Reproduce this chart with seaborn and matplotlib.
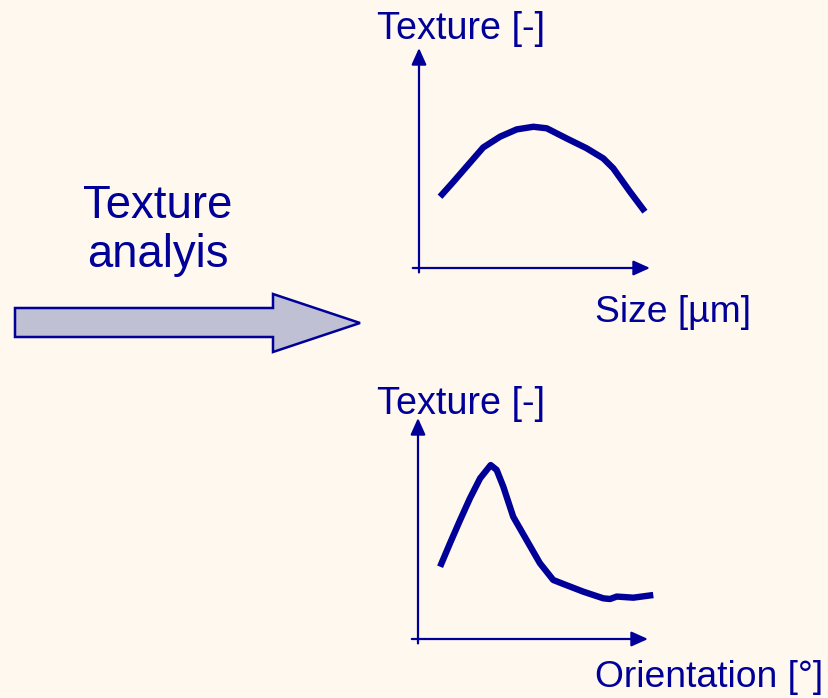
import numpy as np
import pandas as pd
import matplotlib.pyplot as plt
import seaborn as sns
from matplotlib.patches import Polygon

# curve values (arbitrary units, axes run 0..10)
size_x = [0.91, 1.49, 2.06, 2.78, 3.51, 4.23, 4.95, 5.53, 6.39, 7.26, 7.98, 8.41, 9.13, 9.78]
size_tex = [3.24, 3.92, 4.61, 5.48, 5.97, 6.30, 6.42, 6.35, 5.89, 5.44, 4.98, 4.53, 3.47, 2.56]

orient_x = [0.96, 1.39, 1.83, 2.26, 2.70, 3.16, 3.42, 3.71, 4.14, 4.72, 5.30, 5.88,
            6.32, 7.19, 8.06, 8.35, 8.64, 9.36, 10.23]
orient_tex = [3.27, 4.33, 5.38, 6.37, 7.27, 7.87, 7.65, 6.89, 5.53, 4.48, 3.43, 2.67,
              2.49, 2.14, 1.84, 1.81, 1.92, 1.87, 1.99]

top_labels = ("Texture [-]", "Size [µm]")
bottom_labels = ("Texture [-]", "Orientation [°]")
arrow_text = ["Texture", "analyis"]

navy = "#000099"
bg = "#FFF8EF"

sns.set_theme(style="white", rc={"figure.facecolor": bg, "axes.facecolor": bg})
plt.rcParams["font.family"] = ["Liberation Sans", "DejaVu Sans"]

W, H = 829, 698
fig = plt.figure(figsize=(W / 100, H / 100), dpi=100)


def panel(x0, y0, x1, y1, xs, ys, labels, lab_y, xlab_y):
    # axes box placed so data (0,0)-(10,10) lands on the drawn axis origin / tips
    ax = fig.add_axes([x0 / W, 1 - y0 / H, (x1 - x0) / W, (y0 - y1) / H])
    ax.set_xlim(0, 10)
    ax.set_ylim(0, 10)
    ax.axis("off")
    ax.patch.set_alpha(0)
    df = pd.DataFrame({"x": xs, "y": ys})
    sns.lineplot(data=df, x="x", y="y", ax=ax, color=navy, lw=4.6,
                 solid_capstyle="butt", solid_joinstyle="round", clip_on=False)
    ap = dict(arrowstyle="-|>,head_length=1.0,head_width=0.45", color=navy,
              lw=1.6, mutation_scale=10, shrinkA=0, shrinkB=0)
    ax.annotate("", xy=(10, 0), xytext=(-0.27, 0), arrowprops=ap, annotation_clip=False)
    ax.annotate("", xy=(0, 10), xytext=(0, -0.2), arrowprops=ap, annotation_clip=False)
    fig.text(377 / W, 1 - lab_y / H, labels[0], color=navy, fontsize=27.2,
             ha="left", va="baseline")
    fig.text(595 / W, 1 - xlab_y / H, labels[1], color=navy, fontsize=26.8,
             ha="left", va="baseline")
    return ax


panel(419, 268, 650, 48, size_x, size_tex, top_labels, 39, 322)
panel(418, 639, 648, 418, orient_x, orient_tex, bottom_labels, 414, 687)

# big block arrow
bax = fig.add_axes([0, 0, 1, 1])
bax.set_xlim(0, W)
bax.set_ylim(H, 0)
bax.axis("off")
bax.patch.set_alpha(0)
bax.set_zorder(-1)
shape = [(15, 308), (273, 308), (273, 294), (360, 323), (273, 352), (273, 337), (15, 337)]
bax.add_patch(Polygon(shape, closed=True, facecolor="#BFC0D4", edgecolor=navy, lw=1.8))

fig.text(158 / W, 1 - 218 / H, arrow_text[0], color=navy, fontsize=32.8,
         ha="center", va="baseline")
fig.text(158 / W, 1 - 267 / H, arrow_text[1], color=navy, fontsize=32.8,
         ha="center", va="baseline")

fig.savefig("out.png", dpi=100, facecolor=bg)
